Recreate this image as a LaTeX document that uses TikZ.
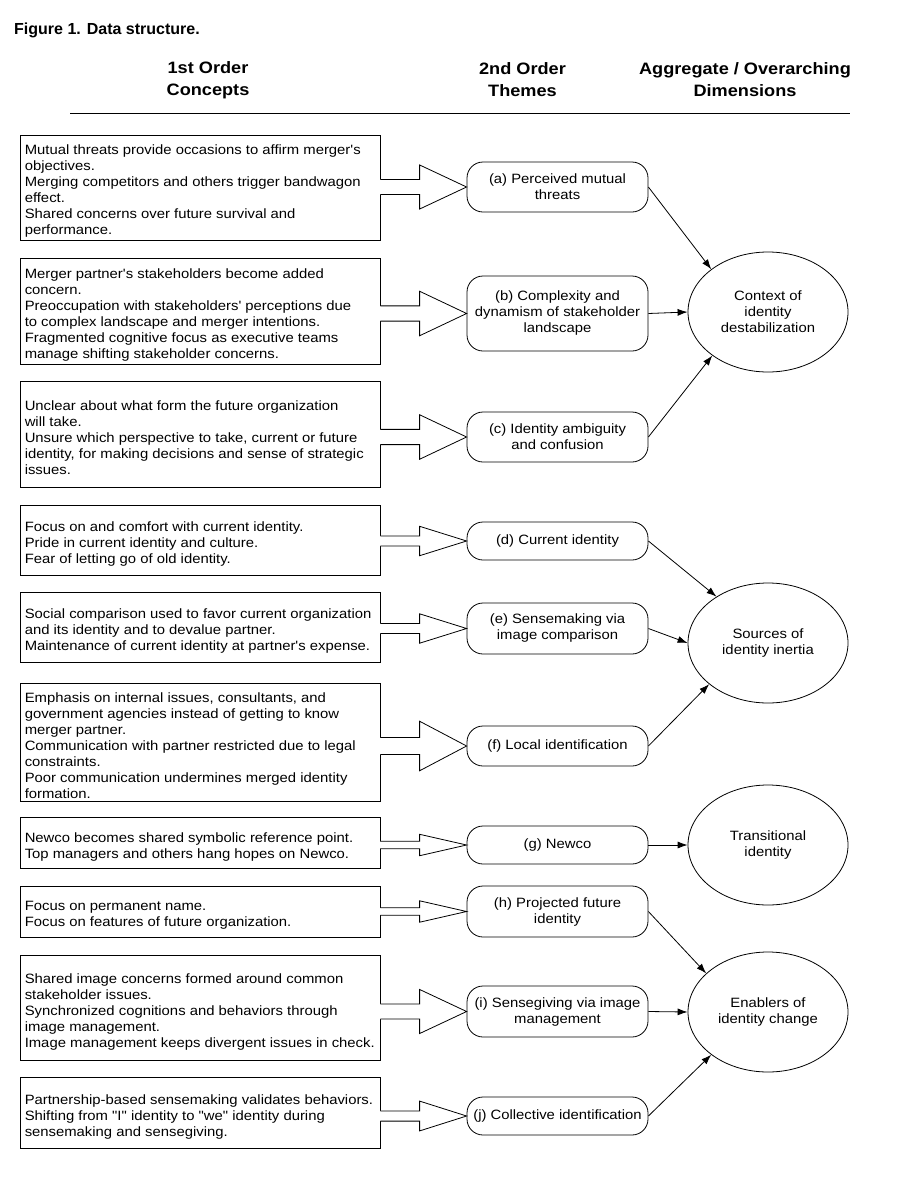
\documentclass[tikz,border=0pt]{standalone}
\usepackage{fontspec}
\setmainfont{Liberation Sans}[Ligatures=TeXOff, FakeStretch=1.10]
\newfontfamily\titlefont{Liberation Sans}[Ligatures=TeXOff]
\usetikzlibrary{arrows.meta,shapes.geometric,calc}

% wide outlined arrow from a concept box to its theme box
% #1 concept box, #2 theme box, #3 concept box height
\newcommand\fatarrow[3]{%
  \path (#2.west) coordinate (tip) (#1.east |- #2.west) coordinate (tail);
  \fill[white] ($(tail)+(-1.2,0.072*#3)$) -- ($(tip)+(-47,0.072*#3)$) -- ($(tip)+(-47,0.21*#3)$) -- (tip)
     -- ($(tip)+(-47,-0.21*#3)$) -- ($(tip)+(-47,-0.072*#3)$) -- ($(tail)+(-1.2,-0.072*#3)$) -- cycle;
  \draw[fat] ($(tail)+(0,0.072*#3)$) -- ($(tip)+(-47,0.072*#3)$) -- ($(tip)+(-47,0.21*#3)$) -- (tip)
     -- ($(tip)+(-47,-0.21*#3)$) -- ($(tip)+(-47,-0.072*#3)$) -- ($(tail)+(0,-0.072*#3)$);
}

% a concept box with its left-aligned text block
% #1 name, #2 centre y, #3 height, #4 text
\newcommand\concept[4]{%
  \node[conceptbox, minimum height=#3pt] (#1) at (200,#2) {};
  \node[concepttext] (#1t) at ($(#1.west)+(5,4)$) {#4};
}

\begin{document}
\begin{tikzpicture}[x=1pt,y=-1pt,
  body/.style={font=\fontsize{13.5}{16}\selectfont},
  conceptbox/.style={draw, line width=0.9pt, minimum width=360pt, inner sep=0pt},
  concepttext/.style={body, anchor=west, align=left, inner sep=0pt},
  theme/.style={body, draw, line width=0.8pt, rounded corners=16pt, minimum width=181pt,
    align=center, inner sep=2pt},
  dimension/.style={body, draw, ellipse, line width=0.8pt, minimum width=160pt,
    minimum height=120pt, inner sep=0pt, align=center},
  header/.style={font=\fontsize{16.5}{22}\bfseries\selectfont, align=center},
  fat/.style={line width=0.8pt, line join=miter},
  link/.style={line width=0.8pt, -{Latex[length=10pt,width=7pt]}}]

\useasboundingbox (0,0) rectangle (901,1178);

% title and column headings
\node[anchor=base west, inner sep=0pt, font=\titlefont\fontsize{16}{19}\bfseries\selectfont] (title) at (14,34)
  {Figure 1. Data structure.};
\node[header] (h1) at (208,80) {1st Order\\Concepts};
\node[header] (h2) at (522.5,80) {2nd Order\\Themes};
\node[header] (h3) at (745,80) {Aggregate / Overarching\\Dimensions};
\draw[line width=0.9pt] (70,113) -- (850,113);

% 1st order concepts
\concept{L1}{187.5}{105}
  {Mutual threats provide occasions to affirm merger's\\objectives.\\Merging competitors and others trigger bandwagon\\effect.\\Shared concerns over future survival and\\performance.}
\concept{L2}{311}{106}
  {Merger partner's stakeholders become added\\concern.\\Preoccupation with stakeholders' perceptions due\\to complex landscape and merger intentions.\\Fragmented cognitive focus as executive teams\\manage shifting stakeholder concerns.}
\concept{L3}{434}{106}
  {Unclear about what form the future organization\\will take.\\Unsure which perspective to take, current or future\\identity, for making decisions and sense of strategic\\issues.}
\concept{L4}{540}{70}
  {Focus on and comfort with current identity.\\Pride in current identity and culture.\\Fear of letting go of old identity.}
\concept{L5}{627}{70}
  {Social comparison used to favor current organization\\and its identity and to devalue partner.\\Maintenance of current identity at partner's expense.}
\concept{L6}{742}{118}
  {Emphasis on internal issues, consultants, and\\government agencies instead of getting to know\\merger partner.\\Communication with partner restricted due to legal\\constraints.\\Poor communication undermines merged identity\\formation.}
\concept{L7}{842.5}{51}
  {Newco becomes shared symbolic reference point.\\Top managers and others hang hopes on Newco.}
\concept{L8}{911.5}{51}
  {Focus on permanent name.\\Focus on features of future organization.}
\concept{L9}{1007.5}{105}
  {Shared image concerns formed around common\\stakeholder issues.\\Synchronized cognitions and behaviors through\\image management.\\Image management keeps divergent issues in check.}
\concept{L10}{1112.5}{71}
  {Partnership-based sensemaking validates behaviors.\\Shifting from "I" identity to "we" identity during\\sensemaking and sensegiving.}

% 2nd order themes
\node[theme, minimum height=50pt] (ta) at (557.5,187) {(a) Perceived mutual\\threats};
\node[theme, minimum height=75pt] (tb) at (557.5,313.5) {(b) Complexity and\\dynamism of stakeholder\\landscape};
\node[theme, minimum height=50pt] (tc) at (557.5,437) {(c) Identity ambiguity\\and confusion};
\node[theme, minimum height=38pt] (td) at (557.5,541) {(d) Current identity};
\node[theme, minimum height=51pt] (te) at (557.5,628.5) {(e) Sensemaking via\\image comparison};
\node[theme, minimum height=40pt] (tf) at (557.5,746) {(f) Local identification};
\node[theme, minimum height=38pt] (tg) at (557.5,845) {(g) Newco};
\node[theme, minimum height=51pt] (th) at (557.5,911.5) {(h) Projected future\\identity};
\node[theme, minimum height=51pt] (ti) at (557.5,1011.5) {(i) Sensegiving via image\\management};
\node[theme, minimum height=38pt] (tj) at (557.5,1116) {(j) Collective identification};

% aggregate dimensions
\node[dimension] (ctx) at (768,312) {Context of\\identity\\destabilization};
\node[dimension] (src) at (768,643) {Sources of\\identity inertia};
\node[dimension] (trn) at (768,845) {Transitional\\identity};
\node[dimension] (enb) at (768,1012) {Enablers of\\identity change};

% concepts feed themes
\fatarrow{L1}{ta}{105}
\fatarrow{L2}{tb}{106}
\fatarrow{L3}{tc}{106}
\fatarrow{L4}{td}{70}
\fatarrow{L5}{te}{70}
\fatarrow{L6}{tf}{118}
\fatarrow{L7}{tg}{51}
\fatarrow{L8}{th}{51}
\fatarrow{L9}{ti}{105}
\fatarrow{L10}{tj}{71}

% themes feed dimensions
\draw[link] (ta.east) -- (ctx.143);
\draw[link] (tb.east) -- (ctx.west);
\draw[link] (tc.east) -- (ctx.218);
\draw[link] (td.east) -- (src.138);
\draw[link] (te.east) -- (src.west);
\draw[link] (tf.east) -- (src.215);
\draw[link] (tg.east) -- (trn.west);
\draw[link] (th.east) -- (enb.148);
\draw[link] (ti.east) -- (enb.west);
\draw[link] (tj.east) -- (enb.217);

\end{tikzpicture}
\end{document}
